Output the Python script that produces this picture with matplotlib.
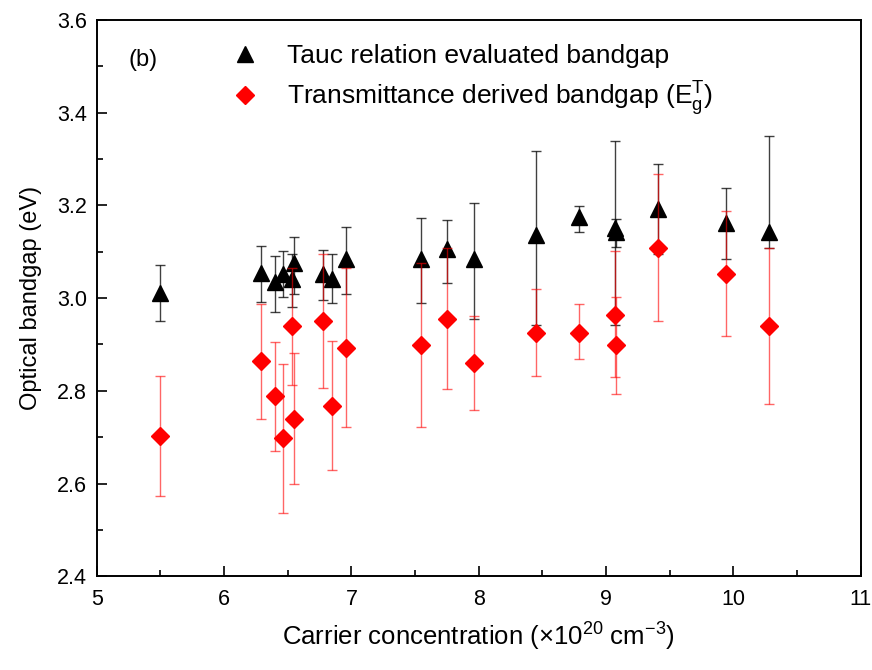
import numpy as np
import matplotlib
matplotlib.use("Agg")
import matplotlib.pyplot as plt
from matplotlib.ticker import MultipleLocator

plt.rcParams['font.family'] = ['Liberation Sans', 'DejaVu Sans']
plt.rcParams['mathtext.fontset'] = 'custom'
plt.rcParams['mathtext.rm'] = 'Liberation Sans'
plt.rcParams['mathtext.it'] = 'Liberation Sans'

# carrier concentration (x10^20 cm^-3)
conc = [5.50, 6.29, 6.40, 6.46, 6.55, 6.53, 6.78, 6.85, 6.96,
        7.55, 7.75, 7.96, 8.45, 8.79, 9.07, 9.08, 9.41, 9.94, 10.28]

# Tauc relation evaluated bandgap (eV) and error bar ends
tauc = [3.011, 3.054, 3.035, 3.053, 3.075, 3.042, 3.053, 3.042, 3.085,
        3.084, 3.105, 3.084, 3.136, 3.175, 3.152, 3.142, 3.193, 3.162, 3.143]
tauc_hi = [3.071, 3.112, 3.092, 3.101, 3.133, 3.095, 3.103, 3.095, 3.153,
           3.172, 3.168, 3.205, 3.317, 3.198, 3.339, 3.170, 3.289, 3.237, 3.349]
tauc_lo = [2.950, 2.991, 2.971, 3.002, 3.010, 2.980, 2.997, 2.989, 3.008,
           2.989, 3.032, 2.956, 2.943, 3.142, 2.941, 3.110, 3.095, 3.084, 3.108]

# transmittance derived bandgap (eV) and error bar ends
trans = [2.702, 2.864, 2.789, 2.698, 2.740, 2.939, 2.951, 2.768, 2.892,
         2.898, 2.956, 2.860, 2.925, 2.925, 2.964, 2.898, 3.109, 3.053, 2.939]
trans_hi = [2.831, 2.987, 2.905, 2.857, 2.881, 3.064, 3.095, 2.907, 3.064,
            3.075, 3.108, 2.961, 3.019, 2.987, 3.101, 3.002, 3.267, 3.188, 3.108]
trans_lo = [2.572, 2.740, 2.671, 2.537, 2.600, 2.812, 2.807, 2.630, 2.721,
            2.721, 2.805, 2.758, 2.833, 2.868, 2.829, 2.794, 2.950, 2.918, 2.771]

x = np.array(conc)
t = np.array(tauc)
r = np.array(trans)
t_err = [t - np.array(tauc_lo), np.array(tauc_hi) - t]
r_err = [r - np.array(trans_lo), np.array(trans_hi) - r]

fig = plt.figure(figsize=(8.72, 6.70), dpi=100)
ax = fig.add_axes([0.111, 0.140, 0.876, 0.830])

ax.errorbar(x, t, yerr=t_err, fmt='none', ecolor='black', elinewidth=1.0,
            capsize=3.6, capthick=1.0, alpha=0.75)
ax.plot(x, t, '^', color='black', markersize=11, linestyle='none',
        label='Tauc relation evaluated bandgap')
ax.errorbar(x, r, yerr=r_err, fmt='none', ecolor='red', elinewidth=1.0,
            capsize=3.6, capthick=1.0, alpha=0.6)
ax.plot(x, r, 'D', color='red', markersize=9, linestyle='none',
        label=r'Transmittance derived bandgap (E$\mathrm{_g^T}$)')

ax.set_xlim(5, 11)
ax.set_ylim(2.4, 3.6)
ax.xaxis.set_major_locator(MultipleLocator(1))
ax.xaxis.set_minor_locator(MultipleLocator(0.5))
ax.yaxis.set_major_locator(MultipleLocator(0.2))
ax.yaxis.set_minor_locator(MultipleLocator(0.1))
ax.yaxis.set_major_formatter(plt.FormatStrFormatter('%.1f'))
ax.tick_params(which='both', direction='in', top=False, right=False,
               labelsize=15.5, width=1.2)
ax.tick_params(which='major', length=7)
ax.tick_params(which='minor', length=4)
ax.tick_params(axis='x', pad=9)
ax.tick_params(axis='y', pad=7)
for s in ax.spines.values():
    s.set_linewidth(1.4)

ax.set_xlabel(r'Carrier concentration ($\times$10$^{20}$ cm$^{-3}$)', fontsize=18.5, labelpad=8)
ax.set_ylabel('Optical bandgap (eV)', fontsize=17, labelpad=11)

ax.text(5.36, 3.514, '(b)', fontsize=17, ha='center', va='center')
ax.legend(loc='upper left', bbox_to_anchor=(0.159, 0.980), frameon=False,
          fontsize=19, handlelength=1.0, handletextpad=1.1, borderpad=0,
          labelspacing=0.4)

fig.savefig('out.png', dpi=100)
